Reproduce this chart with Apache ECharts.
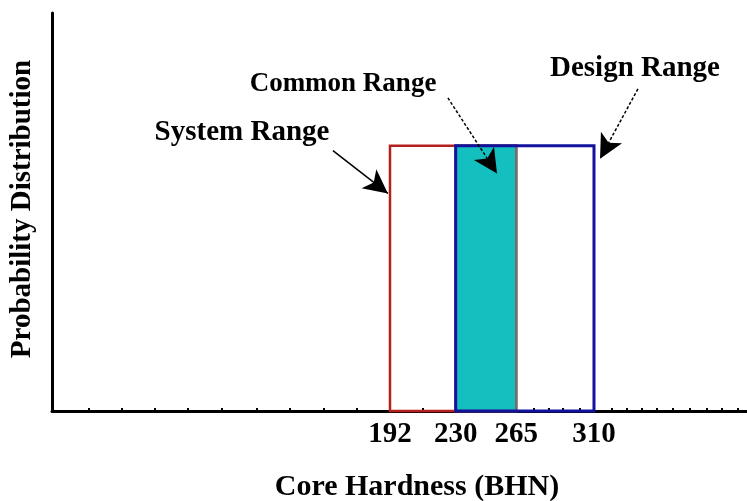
<!DOCTYPE html>
<html>
<head>
<meta charset="utf-8">
<script src="https://cdn.jsdelivr.net/npm/echarts@6/dist/echarts.min.js"></script>
<style>html,body{margin:0;padding:0;background:#fff}#c{width:747px;height:501px}</style>
</head>
<body>
<div id="c"></div>
<script>
// Data
const rangeNames = ['System Range', 'Common Range', 'Design Range'];
const rangeStart = [192, 230, 230];
const rangeEnd = [265, 265, 310];
const rangeHeight = [1, 1, 1];
const xLabelValues = [192, 230, 265, 310];
const xTickValues = [17.5, 36.8, 56.1, 75.3, 94.7, 114.9, 134.2, 153.4, 172.7, 210.9,
  274.9, 283.6, 292.2, 301.9, 320.4, 329.1, 337.7, 346.4, 355.6, 365.5, 375.3, 384.0, 393.3];
const arrowFrom = [[159.0, 0.981], [225.5, 1.180], [335.4, 1.214]];
const arrowTo = [[190.8, 0.820], [253.9, 0.895], [313.5, 0.951]];
const xTitle = 'Core Hardness (BHN)';
const yTitle = 'Probability Distribution';

const FONT = "'Liberation Serif','Times New Roman',serif";
const styles = [
  { fill: 'rgba(0,0,0,0)', stroke: '#b3201e', lineWidth: 2.5 },
  { fill: '#14bfc0', stroke: '#6f6f6f', lineWidth: 2.5 },
  { fill: 'rgba(0,0,0,0)', stroke: '#12129c', lineWidth: 3 }
];
const lineTypes = ['solid', [3, 2], [3, 2]];

const chart = echarts.init(document.getElementById('c'), null, { renderer: 'canvas' });
const data = rangeNames.map((n, i) => [rangeStart[i], rangeEnd[i], rangeHeight[i], i]);

chart.setOption({
  animation: false,
  backgroundColor: '#fff',
  grid: { left: 52, right: 0, top: 13, bottom: 90 },
  xAxis: {
    type: 'value', min: -3.5, max: 398.5,
    splitLine: { show: false },
    axisLine: { show: true, onZero: false, lineStyle: { color: '#000', width: 3 } },
    axisTick: { show: true, inside: true, length: 3, customValues: xTickValues, lineStyle: { color: '#000', width: 2 } },
    axisLabel: { customValues: xLabelValues, color: '#000', fontFamily: FONT, fontWeight: 'bold', fontSize: 29, margin: 9 }
  },
  yAxis: {
    type: 'value', min: 0, max: 1.5,
    splitLine: { show: false },
    axisLine: { show: true, onZero: false, lineStyle: { color: '#000', width: 3 } },
    axisTick: { show: false },
    axisLabel: { show: false }
  },
  series: [{
    type: 'custom',
    silent: true,
    data: data,
    encode: { x: [0, 1], y: 2 },
    renderItem: function (params, api) {
      const i = api.value(3);
      const p0 = api.coord([api.value(0), api.value(2)]);
      const p1 = api.coord([api.value(1), 0]);
      const s = styles[i];
      return {
        type: 'rect',
        shape: { x: p0[0], y: p0[1], width: p1[0] - p0[0], height: p1[1] - p0[1] },
        style: { fill: s.fill, stroke: s.stroke, lineWidth: s.lineWidth }
      };
    },
    markLine: {
      silent: true,
      symbol: ['none', 'arrow'],
      symbolSize: [18, 24],
      label: { show: false },
      data: arrowFrom.map((f, i) => [
        { coord: f, lineStyle: { color: '#000', width: 1.5, type: lineTypes[i] } },
        { coord: arrowTo[i] }
      ])
    }
  }],
  graphic: [
    { type: 'text', x: 23, y: 209, rotation: Math.PI / 2,
      style: { text: yTitle, fill: '#000', font: 'bold 29px ' + FONT, align: 'center', verticalAlign: 'middle' } },
    { type: 'text', x: 417, y: 487,
      style: { text: xTitle, fill: '#000', font: 'bold 30px ' + FONT, align: 'center', verticalAlign: 'middle' } },
    { type: 'text', x: 242, y: 133,
      style: { text: rangeNames[0], fill: '#000', font: 'bold 29px ' + FONT, align: 'center', verticalAlign: 'middle' } },
    { type: 'text', x: 343, y: 84,
      style: { text: rangeNames[1], fill: '#000', font: 'bold 27px ' + FONT, align: 'center', verticalAlign: 'middle' } },
    { type: 'text', x: 635, y: 69,
      style: { text: rangeNames[2], fill: '#000', font: 'bold 29px ' + FONT, align: 'center', verticalAlign: 'middle' } }
  ]
});
</script>
</body>
</html>
